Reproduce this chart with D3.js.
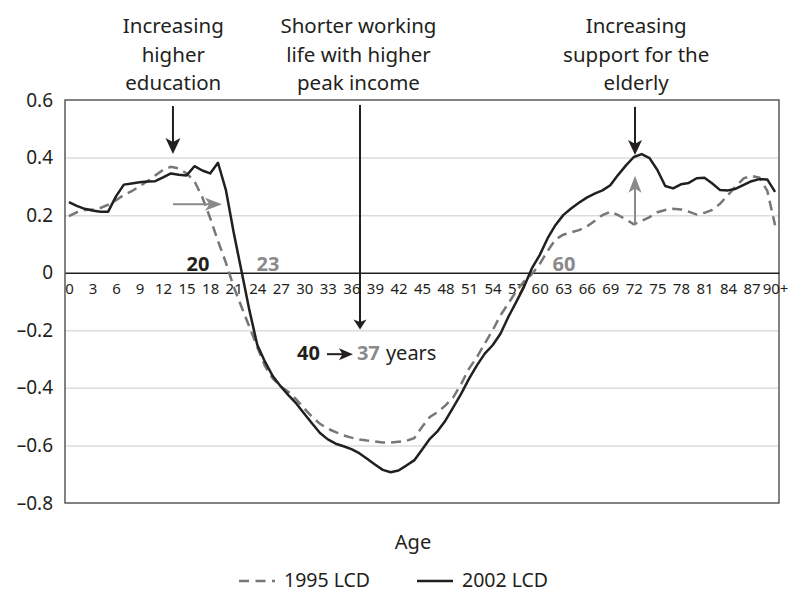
<!DOCTYPE html>
<html>
<head>
<meta charset="utf-8">
<script src="https://cdn.jsdelivr.net/npm/d3@7"></script>
<style>
    body { margin: 0; background: #fff; }
    svg { display: block; font-family: "Noto Sans", sans-serif; }
</style>
</head>
<body>
<svg width="791" height="592"></svg>
<script>
// ages 0..90 (90 = "90+")
var ages = d3.range(0, 91);

var lcd1995 = [0.197, 0.21, 0.218, 0.22, 0.225, 0.236, 0.252, 0.27, 0.283, 0.3,
    0.318, 0.338, 0.357, 0.368, 0.362, 0.345, 0.318, 0.262, 0.19, 0.11,
    0.035, -0.049, -0.119, -0.188, -0.258, -0.325, -0.368, -0.395, -0.414, -0.441,
    -0.472, -0.501, -0.525, -0.542, -0.554, -0.565, -0.573, -0.579, -0.583, -0.586,
    -0.59, -0.59, -0.587, -0.584, -0.575, -0.536, -0.501, -0.484, -0.461, -0.432,
    -0.386, -0.333, -0.293, -0.246, -0.2, -0.148, -0.107, -0.065, -0.03, -0.005,
    0.03, 0.075, 0.115, 0.132, 0.14, 0.148, 0.16, 0.18, 0.2, 0.212,
    0.2, 0.185, 0.168, 0.18, 0.193, 0.21, 0.218, 0.222, 0.22, 0.212,
    0.202, 0.208, 0.218, 0.24, 0.27, 0.3, 0.328, 0.336, 0.33, 0.285,
    0.165];

var lcd2002 = [0.245, 0.232, 0.222, 0.216, 0.212, 0.212, 0.265, 0.306, 0.31, 0.314,
    0.317, 0.318, 0.331, 0.345, 0.34, 0.338, 0.37, 0.355, 0.345, 0.382,
    0.288, 0.14, 0.005, -0.13, -0.25, -0.31, -0.36, -0.395, -0.426, -0.455,
    -0.49, -0.524, -0.557, -0.579, -0.594, -0.603, -0.613, -0.627, -0.646, -0.666,
    -0.685, -0.693, -0.687, -0.67, -0.652, -0.615, -0.577, -0.55, -0.513, -0.467,
    -0.42, -0.368, -0.322, -0.281, -0.252, -0.212, -0.154, -0.102, -0.049, 0.015,
    0.061, 0.119, 0.165, 0.2, 0.223, 0.243, 0.261, 0.275, 0.286, 0.304,
    0.34, 0.373, 0.402, 0.412, 0.398, 0.357, 0.301, 0.293, 0.307, 0.312,
    0.328, 0.33, 0.31, 0.287, 0.286, 0.292, 0.305, 0.318, 0.325, 0.324,
    0.281];

var yTicks = [0.6, 0.4, 0.2, 0, -0.2, -0.4, -0.6, -0.8];
var yGrid = [0.4, 0.2, -0.2, -0.4, -0.6];
var xTickAges = [0, 3, 6, 9, 12, 15, 18, 21, 24, 27, 30, 33, 36, 39, 42, 45,
    48, 51, 54, 57, 60, 63, 66, 69, 72, 75, 78, 81, 84, 87, 90];
var xTickLabels = ["0", "3", "6", "9", "12", "15", "18", "21", "24", "27", "30", "33",
    "36", "39", "42", "45", "48", "51", "54", "57", "60", "63", "66", "69", "72",
    "75", "78", "81", "84", "87", "90+"];
var seriesNames = ["1995 LCD", "2002 LCD"];

var black = "#231f20", grey = "#8a8a8a";

var svg = d3.select("svg"),
    margin = {top: 100, right: 12, bottom: 89, left: 65},
    width = +svg.attr("width") - margin.left - margin.right,
    height = +svg.attr("height") - margin.top - margin.bottom,
    g = svg.append("g").attr("transform", "translate(" + margin.left + "," + margin.top + ")");

var x = d3.scaleLinear().domain([-0.5, 90.5]).range([0, width]),
    y = d3.scaleLinear().domain([-0.8, 0.6]).range([height, 0]);

// light grid
var grid = g.append("g")
    .call(d3.axisLeft(y).tickValues(yGrid).tickSize(-width).tickFormat(""));
grid.select(".domain").remove();
grid.selectAll("line").attr("stroke", "#dcdcdc").attr("stroke-width", 1.5);

// frame
g.append("rect")
    .attr("width", width)
    .attr("height", height)
    .attr("fill", "none")
    .attr("stroke", "#4d4d4d")
    .attr("stroke-width", 1.4);

// y labels
var yAxis = g.append("g")
    .call(d3.axisLeft(y).tickValues(yTicks).tickSize(0).tickPadding(12)
        .tickFormat(function (d) {
            if (d === 0) return "0";
            return (d < 0 ? "\u2013" : "") + Math.abs(d).toFixed(1);
        }));
yAxis.select(".domain").remove();
yAxis.selectAll("text").attr("font-size", 19).attr("fill", black)
    .style("font-family", "'Noto Sans', sans-serif");

// zero axis with age labels
var xAxis = g.append("g")
    .attr("transform", "translate(0," + y(0) + ")")
    .call(d3.axisBottom(x).tickValues(xTickAges).tickSize(0).tickPadding(11)
        .tickFormat(function (d, i) { return xTickLabels[i]; }));
xAxis.select(".domain").attr("stroke", black).attr("stroke-width", 1.5);
xAxis.selectAll("text").attr("font-size", 15).attr("fill", black)
    .style("font-family", "'Noto Sans', sans-serif");

var line = d3.line()
    .x(function (d) { return x(d.age); })
    .y(function (d) { return y(d.value); });

function series(vals) {
    return ages.map(function (a, i) { return {age: a, value: vals[i]}; });
}

g.append("path")
    .datum(series(lcd1995))
    .attr("fill", "none")
    .attr("stroke", "#777777")
    .attr("stroke-width", 2.5)
    .attr("stroke-dasharray", "10,6")
    .attr("d", line);

g.append("path")
    .datum(series(lcd2002))
    .attr("fill", "none")
    .attr("stroke", black)
    .attr("stroke-width", 2.5)
    .attr("stroke-linejoin", "round")
    .attr("d", line);

// annotation arrows (age, value coordinates)
var arrows = [
    {x1: 13.26, y1: 0.579, x2: 13.26, y2: 0.412, color: black, w: 2, hl: 16, hw: 15},
    {x1: 37.1, y1: 0.583, x2: 37.1, y2: -0.197, color: black, w: 2, hl: 10, hw: 13},
    {x1: 72.15, y1: 0.576, x2: 72.15, y2: 0.409, color: black, w: 2, hl: 15, hw: 14},
    {x1: 13.26, y1: 0.238, x2: 19.51, y2: 0.238, color: grey, w: 2, hl: 17, hw: 13},
    {x1: 72.15, y1: 0.165, x2: 72.15, y2: 0.337, color: grey, w: 2, hl: 17, hw: 13},
    {x1: 32.89, y1: -0.283, x2: 36.2, y2: -0.283, color: black, w: 2, hl: 14, hw: 12}
];

arrows.forEach(function (a) {
    var X1 = x(a.x1), Y1 = y(a.y1), X2 = x(a.x2), Y2 = y(a.y2);
    var ang = Math.atan2(Y2 - Y1, X2 - X1),
        ux = Math.cos(ang), uy = Math.sin(ang),
        px = -uy, py = ux;
    var bx = X2 - ux * a.hl, by = Y2 - uy * a.hl;
    g.append("line")
        .attr("x1", X1).attr("y1", Y1)
        .attr("x2", X2 - ux * a.hl * 0.7).attr("y2", Y2 - uy * a.hl * 0.7)
        .attr("stroke", a.color)
        .attr("stroke-width", a.w);
    var nx = X2 - ux * a.hl * 0.75, ny = Y2 - uy * a.hl * 0.75;
    g.append("path")
        .attr("d", "M" + X2 + "," + Y2 +
            "L" + (bx + px * a.hw / 2) + "," + (by + py * a.hw / 2) +
            "L" + nx + "," + ny +
            "L" + (bx - px * a.hw / 2) + "," + (by - py * a.hw / 2) + "Z")
        .attr("fill", a.color);
});

// bold age markers
var markers = [
    {age: 16.45, text: "20", color: black},
    {age: 25.37, text: "23", color: grey},
    {age: 63.1, text: "60", color: grey}
];
g.selectAll(".marker")
    .data(markers)
    .enter().append("text")
    .attr("class", "marker")
    .attr("x", function (d) { return x(d.age); })
    .attr("y", y(0) - 2)
    .attr("text-anchor", "middle")
    .attr("font-size", 20)
    .attr("font-weight", "bold")
    .attr("fill", function (d) { return d.color; })
    .text(function (d) { return d.text; });

// 40 -> 37 years
var yrs = g.append("g").attr("font-size", 20);
yrs.append("text").attr("x", x(29.07)).attr("y", y(-0.304))
    .attr("font-weight", "bold").attr("fill", black).text("40");
yrs.append("text").attr("x", x(36.7)).attr("y", y(-0.304))
    .attr("font-weight", "bold").attr("fill", grey).text("37");
yrs.append("text").attr("x", x(40.4)).attr("y", y(-0.304))
    .attr("fill", black).text("years");

// top notes
var notes = [
    {age: 13.3, lines: ["Increasing", "higher", "education"]},
    {age: 36.9, lines: ["Shorter working", "life with higher", "peak income"]},
    {age: 72.3, lines: ["Increasing", "support for the", "elderly"]}
];
notes.forEach(function (n) {
    var t = g.append("text")
        .attr("text-anchor", "middle")
        .attr("font-size", 20.5)
        .attr("fill", black);
    n.lines.forEach(function (l, i) {
        t.append("tspan").attr("x", x(n.age)).attr("y", -67 + i * 28.5).text(l);
    });
});

// axis title
g.append("text")
    .attr("x", 348)
    .attr("y", height + 46)
    .attr("text-anchor", "middle")
    .attr("font-size", 20)
    .attr("fill", black)
    .text("Age");

// legend
var legend = svg.append("g").attr("transform", "translate(0,581)");
var legendX = [239, 417];
seriesNames.forEach(function (name, i) {
    legend.append("line")
        .attr("x1", legendX[i]).attr("x2", legendX[i] + 36)
        .attr("y1", 0).attr("y2", 0)
        .attr("stroke", i === 0 ? "#777777" : black)
        .attr("stroke-width", 2.5)
        .attr("stroke-dasharray", i === 0 ? "10,6.5" : null);
    legend.append("text")
        .attr("x", legendX[i] + 45)
        .attr("y", 6)
        .attr("font-size", 19.5)
        .attr("fill", black)
        .text(name);
});
</script>
</body>
</html>
